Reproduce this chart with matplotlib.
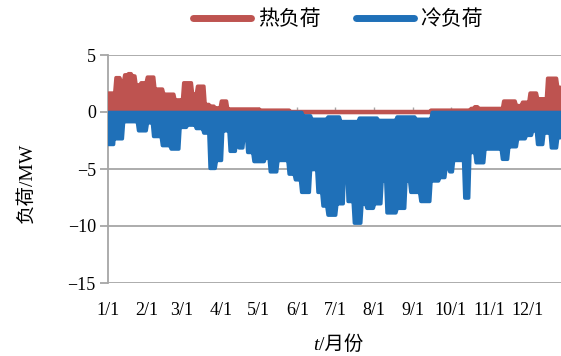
import numpy as np
import matplotlib
matplotlib.use('Agg')
import matplotlib.pyplot as plt
from matplotlib.lines import Line2D

# ---- data (day of year -> value, step segments) ----
month_labels = ['1/1', '2/1', '3/1', '4/1', '5/1', '6/1', '7/1', '8/1', '9/1', '10/1', '11/1', '12/1']
month_starts = [0, 31, 59, 90, 120, 151, 181, 212, 243, 273, 304, 334]

heat_days = [0, 6, 10, 13, 16, 19, 22, 26, 31, 37, 44, 53, 60, 67, 71, 77, 81, 85, 90, 95,
             121, 145, 257, 289, 292, 295, 315, 325, 330, 336, 342, 350, 358]
heat_peak = [1.7, 3.05, 2.7, 3.3, 3.4, 3.2, 2.4, 2.6, 3.1, 2.05, 1.6, 1.1, 2.6, 1.6, 2.3, 0.7, 0.55, 0.4, 1.0, 0.3,
             0.2, 0.08, 0.2, 0.35, 0.5, 0.35, 1.0, 0.6, 0.9, 1.7, 1.2, 3.0, 2.2]

cold_days = [0, 5, 6, 12, 24, 31, 36, 43, 50, 57, 63, 70, 76, 81, 86, 91, 97, 102, 104, 108,
             111, 116, 125, 129, 135, 144, 149, 154, 161, 167, 171, 175, 182, 188, 191, 196, 202,
             206, 212, 218, 222, 230, 237, 241, 249, 257, 264, 269, 272, 275, 284, 288, 293, 300,
             314, 319, 326, 333, 338, 342, 347, 353, 358]
cold_peak = [-2.8, -1.3, -2.3, -0.8, -1.6, -0.9, -2.1, -2.9, -3.2, -1.3, -1.1, -1.4, -1.8, -4.9, -4.2, -1.6, -3.4, -2.4, -3.1, -2.0,
             -3.5, -4.3, -4.0, -5.2, -4.2, -5.4, -5.9, -7.0, -5.0, -7.0, -8.2, -9.0, -8.0, -5.0, -7.8, -9.7, -8.0,
             -8.4, -8.0, -6.0, -8.8, -8.4, -6.0, -7.0, -7.8, -6.0, -5.7, -4.8, -5.2, -4.2, -7.5, -3.5, -4.4, -3.2,
             -4.1, -3.0, -2.3, -2.0, -1.6, -2.8, -1.8, -3.1, -2.2]

cold_top_days = [0, 155, 162, 175, 185, 200, 215, 230, 245, 258]
cold_top = [0.0, -0.3, -0.6, -0.4, -0.8, -0.5, -0.7, -0.4, -0.6, 0.0]

RED = '#BE5350'
BLUE = '#1F70B8'
GRAY = '#A6A6A6'

plt.rcParams['font.family'] = ['Liberation Serif', 'Noto Sans CJK SC']
plt.rcParams['axes.unicode_minus'] = True

grid = np.arange(0, 366)

def step_eval(days, vals):
    idx = np.searchsorted(np.asarray(days), grid, side='right') - 1
    return np.asarray(vals)[idx]

heat_d = step_eval(heat_days, heat_peak)
cold_d = step_eval(cold_days, cold_peak)
top_d = step_eval(cold_top_days, cold_top)

fig = plt.figure(figsize=(5.61, 3.56), dpi=100)
ax = fig.add_axes([108 / 561, 1 - 283 / 356, (566 - 108) / 561, (283 - 55) / 356])

ax.axhline(0, color=GRAY, lw=1.3, zorder=1)
ax.vlines(month_starts, 0, 0.45, color=GRAY, lw=1.0, zorder=1)

ax.fill_between(grid, 0, heat_d, facecolor=RED, edgecolor=RED,
                lw=2.6, joinstyle='round', zorder=3)
ax.fill_between(grid, top_d, cold_d, facecolor=BLUE, edgecolor=BLUE,
                lw=2.6, joinstyle='round', zorder=4)

ax.set_xlim(0, 365)
ax.set_ylim(-15, 5)
ax.set_yticks([-15, -10, -5, 0, 5])
ax.yaxis.grid(True, color=GRAY, lw=1.3)
ax.set_axisbelow(True)
for s in ['top', 'right', 'bottom']:
    ax.spines[s].set_visible(False)
ax.spines['left'].set_color(GRAY)
ax.spines['left'].set_linewidth(1.3)
ax.tick_params(axis='y', length=5.8, width=1.3, color=GRAY, labelsize=13, pad=3)
ax.set_xticks(month_starts)
ax.set_xticklabels(month_labels)
ax.tick_params(axis='x', length=0, labelsize=13, pad=14)

fig.text(27 / 561, 1 - 183 / 356, '负荷/MW', rotation=90, ha='center', va='center', fontsize=14)
fig.text(319 / 561, 1 - 345 / 356, 't', ha='right', va='center', fontsize=14,
         family=['Liberation Serif'], style='italic')
fig.text(319 / 561, 1 - 345 / 356, '/月份', ha='left', va='center', fontsize=14)

handles = [Line2D([], [], color=RED, lw=5, solid_capstyle='round'),
           Line2D([], [], color=BLUE, lw=5, solid_capstyle='round')]
fig.legend(handles, ['热负荷', '冷负荷'], loc='center', bbox_to_anchor=(338 / 561, 1 - 20 / 356),
           ncol=2, frameon=False, handlelength=2.8, handletextpad=0.3, columnspacing=1.7, fontsize=15)

fig.savefig('out.png', dpi=100)
